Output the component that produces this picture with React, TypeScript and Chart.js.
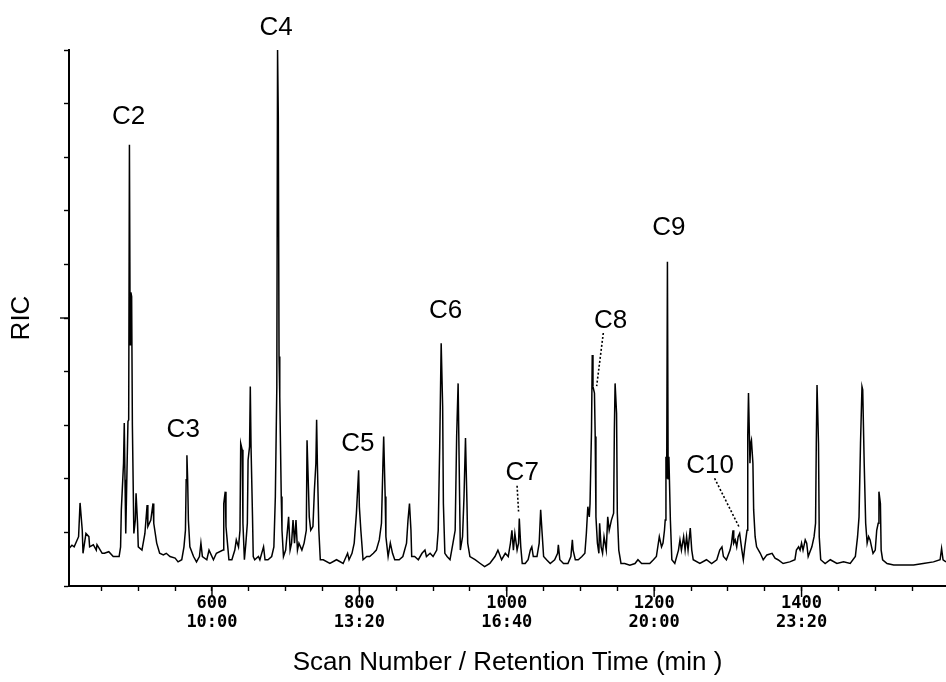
import React, { useEffect, useRef } from 'react';
import { Chart, registerables } from 'chart.js';

Chart.register(...registerables);

// ---- data (scan number, RIC intensity in % of full scale) ----
const scans = [
  406, 410, 413, 419, 421, 424, 425, 429, 433, 434, 439, 443, 444, 447, 451, 454, 460, 466, 474, 476,
  477, 480, 481, 482, 483, 484, 486, 487, 488, 489, 490, 491, 492, 494, 496, 497, 499, 500, 505, 509,
  512, 513, 517, 520, 521, 525, 529, 534, 538, 543, 550, 554, 559, 562, 564, 565, 566, 567, 568, 570,
  575, 579, 583, 585, 587, 593, 596, 602, 606, 615, 616, 618, 619, 621, 623, 627, 631, 633, 636, 638,
  639, 641, 642, 644, 646, 648, 649, 651, 652, 653, 655, 656, 658, 663, 665, 670, 672, 676, 681, 684,
  686, 688, 689, 690, 691, 692, 694, 695, 697, 700, 704, 706, 708, 710, 712, 714, 716, 718, 722, 725,
  728, 729, 731, 732, 734, 737, 739, 741, 742, 743, 745, 747, 751, 760, 769, 778, 784, 786, 790, 793,
  796, 799, 800, 802, 805, 810, 814, 819, 823, 827, 830, 832, 833, 835, 836, 839, 842, 845, 848, 854,
  859, 864, 866, 868, 870, 871, 875, 880, 885, 889, 891, 896, 900, 905, 907, 909, 911, 913, 914, 916,
  919, 923, 927, 930, 932, 934, 936, 937, 940, 942, 944, 946, 947, 950, 957, 964, 970, 977, 984, 988,
  993, 998, 1002, 1005, 1007, 1009, 1011, 1014, 1016, 1017, 1019, 1021, 1025, 1029, 1032, 1034, 1036, 1041, 1044, 1046,
  1048, 1050, 1054, 1059, 1065, 1069, 1070, 1072, 1077, 1083, 1087, 1089, 1090, 1093, 1097, 1102, 1106, 1108, 1110, 1112,
  1113, 1115, 1116, 1117, 1119, 1120, 1121, 1123, 1125, 1126, 1128, 1130, 1132, 1135, 1137, 1139, 1142, 1145, 1146, 1147,
  1149, 1150, 1152, 1155, 1160, 1167, 1174, 1178, 1183, 1190, 1194, 1199, 1203, 1207, 1210, 1212, 1214, 1215, 1216, 1217,
  1218, 1219, 1220, 1222, 1224, 1228, 1233, 1235, 1237, 1240, 1242, 1244, 1246, 1249, 1251, 1253, 1262, 1271, 1278, 1285,
  1289, 1292, 1294, 1298, 1303, 1305, 1307, 1308, 1310, 1312, 1314, 1316, 1319, 1321, 1323, 1326, 1327, 1328, 1330, 1331,
  1332, 1334, 1335, 1337, 1339, 1344, 1348, 1353, 1360, 1364, 1368, 1375, 1384, 1391, 1393, 1396, 1398, 1400, 1402, 1405,
  1407, 1409, 1414, 1417, 1419, 1420, 1421, 1423, 1424, 1426, 1432, 1439, 1448, 1457, 1466, 1473, 1476, 1478, 1480, 1482,
  1483, 1485, 1487, 1489, 1491, 1493, 1495, 1497, 1500, 1502, 1504, 1505, 1507, 1508, 1510, 1516, 1525, 1538, 1552, 1565,
  1579, 1588, 1590, 1592, 1596,
];

const intensities = [
  7.0, 7.6, 7.3, 9.2, 15.5, 10.4, 6.1, 9.8, 9.2, 7.3, 7.7, 6.7, 7.7, 7.0, 6.1, 6.1, 6.4, 5.5, 5.5, 7.3,
  14.2, 22.9, 30.4, 19.8, 9.8, 16.7, 30.7, 31.0, 82.3, 45.0, 54.8, 54.0, 30.0, 9.8, 12.3, 17.3, 11.7, 7.3, 6.7, 9.8,
  15.1, 11.1, 12.3, 15.4, 11.7, 8.0, 6.1, 5.8, 6.1, 5.5, 5.2, 4.5, 4.9, 7.3, 10.4, 19.8, 24.4, 19.8, 12.3, 7.3,
  5.5, 4.5, 5.5, 8.0, 5.5, 4.9, 6.7, 4.9, 6.1, 6.7, 15.4, 17.6, 11.1, 8.0, 4.9, 4.9, 6.7, 8.6, 7.3, 10.4,
  26.6, 25.4, 11.7, 4.9, 8.0, 11.7, 23.5, 26.0, 37.2, 26.0, 12.9, 5.5, 4.9, 5.5, 4.9, 7.3, 4.9, 4.9, 5.5, 7.3,
  16.7, 37.2, 100.0, 87.5, 42.8, 35.3, 16.7, 10.4, 5.5, 6.7, 12.9, 6.7, 8.0, 12.3, 8.0, 12.3, 6.7, 8.0, 6.7, 8.0,
  10.4, 27.2, 17.9, 12.9, 10.4, 11.1, 17.9, 22.9, 31.0, 22.9, 10.4, 4.9, 4.9, 4.2, 4.9, 4.2, 6.1, 4.9, 6.1, 8.0,
  13.6, 21.6, 14.8, 10.4, 4.9, 5.5, 5.5, 6.1, 6.7, 8.6, 11.7, 22.9, 27.9, 16.7, 9.2, 5.5, 8.0, 6.1, 4.9, 4.9,
  5.5, 8.0, 12.3, 15.4, 10.4, 5.5, 5.5, 4.9, 6.1, 6.7, 5.5, 6.1, 5.5, 6.7, 10.4, 26.0, 45.3, 33.5, 15.4, 6.1,
  5.5, 4.9, 8.0, 10.4, 27.9, 37.8, 16.7, 6.7, 9.2, 16.7, 27.6, 15.4, 8.0, 5.5, 4.9, 4.2, 3.6, 4.2, 5.5, 6.7,
  4.9, 6.1, 5.5, 8.0, 10.4, 6.7, 9.8, 6.7, 8.0, 12.6, 7.3, 4.2, 4.2, 4.9, 6.7, 7.3, 5.5, 5.5, 8.0, 14.2,
  9.8, 5.5, 4.9, 4.2, 4.9, 6.1, 7.7, 4.9, 4.2, 4.2, 5.5, 8.6, 6.7, 4.9, 4.9, 5.5, 6.1, 9.8, 14.8, 12.9,
  15.4, 29.1, 43.1, 37.2, 36.0, 27.9, 12.9, 8.0, 6.1, 11.7, 7.3, 6.1, 9.2, 6.7, 12.9, 10.4, 12.3, 13.6, 29.1, 37.8,
  32.2, 13.6, 6.7, 4.2, 4.2, 3.9, 4.2, 4.9, 4.2, 4.2, 4.2, 4.9, 5.5, 9.2, 7.3, 8.0, 10.4, 12.3, 24.1, 20.0,
  60.5, 20.0, 24.1, 12.3, 4.9, 4.2, 6.7, 8.6, 6.7, 9.2, 6.7, 9.2, 6.7, 10.8, 6.7, 4.9, 4.2, 4.9, 4.2, 4.9,
  6.7, 7.3, 5.5, 4.9, 6.7, 8.0, 10.4, 8.0, 8.6, 7.3, 9.2, 9.8, 6.7, 4.9, 7.3, 10.4, 27.9, 36.0, 22.9, 26.6,
  27.2, 22.9, 14.2, 9.2, 7.3, 6.1, 4.9, 5.8, 6.1, 5.2, 4.9, 4.2, 4.5, 4.9, 6.7, 7.3, 6.7, 8.0, 6.7, 8.6,
  8.0, 5.5, 7.3, 9.2, 11.7, 26.6, 37.5, 26.6, 9.2, 4.9, 4.2, 4.9, 4.2, 4.5, 4.2, 5.5, 9.2, 12.9, 26.6, 37.2,
  36.6, 22.9, 11.7, 8.0, 9.2, 8.6, 7.3, 6.1, 6.7, 10.4, 11.7, 17.6, 15.4, 6.7, 4.9, 4.2, 3.9, 3.9, 3.9, 4.2,
  4.5, 4.9, 7.0, 4.9, 4.5,
];

// ---- axes ----
const xMin = 406;
const xMax = 1596;
const minorTickScans = [450, 500, 550, 650, 700, 750, 850, 900, 950, 1050, 1100, 1150, 1250, 1300, 1350, 1450, 1500, 1550];
const majorTickScans = [600, 800, 1000, 1200, 1400];
const majorTickTimes = ['10:00', '13:20', '16:40', '20:00', '23:20'];
const yTickValues = [0, 10, 20, 30, 40, 50, 60, 70, 80, 90, 100];
const yLongTick = 50;

// ---- peak labels ----
const peakNames = ['C2', 'C3', 'C4', 'C5', 'C6', 'C7', 'C8', 'C9', 'C10'];
const peakLabelScans = [487, 561, 687, 798, 917, 1021, 1141, 1220, 1276];
const peakLabelValues = [87.5, 29.2, 104.2, 26.6, 51.3, 21.1, 49.4, 66.8, 22.4];

// dotted leader lines (from label toward peak)
const leaderFromScans = [1014, 1131, 1282];
const leaderFromValues = [18.7, 47.2, 20.1];
const leaderToScans = [1016, 1122, 1316];
const leaderToValues = [13.9, 37.3, 10.8];

const LABEL_FONT = "'Liberation Sans', Arial, Helvetica, sans-serif";

const extrasPlugin = {
  id: 'extras',
  afterDraw(chart: any) {
    const { ctx } = chart;
    const xs = chart.scales.x;
    const ys = chart.scales.y;
    ctx.save();
    ctx.strokeStyle = '#000';
    ctx.fillStyle = '#000';

    // longer tick at mid-scale on y axis
    const yl = ys.getPixelForValue(yLongTick);
    ctx.lineWidth = 1.4;
    ctx.beginPath();
    ctx.moveTo(chart.chartArea.left - 9, yl);
    ctx.lineTo(chart.chartArea.left, yl);
    ctx.stroke();

    // longer major ticks on x axis
    const yb = chart.chartArea.bottom;
    majorTickScans.forEach((s) => {
      const px = xs.getPixelForValue(s);
      ctx.beginPath();
      ctx.moveTo(px, yb);
      ctx.lineTo(px, yb + 11);
      ctx.stroke();
    });

    // leader lines
    ctx.setLineDash([2, 2]);
    ctx.lineWidth = 1.6;
    leaderFromScans.forEach((s, i) => {
      ctx.beginPath();
      ctx.moveTo(xs.getPixelForValue(s), ys.getPixelForValue(leaderFromValues[i]));
      ctx.lineTo(xs.getPixelForValue(leaderToScans[i]), ys.getPixelForValue(leaderToValues[i]));
      ctx.stroke();
    });
    ctx.setLineDash([]);

    // peak labels
    ctx.font = `26px ${LABEL_FONT}`;
    ctx.textAlign = 'center';
    ctx.textBaseline = 'middle';
    peakNames.forEach((n, i) => {
      ctx.fillText(n, xs.getPixelForValue(peakLabelScans[i]), ys.getPixelForValue(peakLabelValues[i]));
    });
    ctx.restore();
  },
};

function toTime(i: number) {
  return majorTickTimes[i];
}

export default function App() {
  const canvasRef = useRef<HTMLCanvasElement | null>(null);

  useEffect(() => {
    const canvas = canvasRef.current;
    if (!canvas) return;
    const points = scans.map((s, i) => ({ x: s, y: intensities[i] }));
    const allXTicks = [...minorTickScans, ...majorTickScans].sort((a, b) => a - b);

    const chart = new Chart(canvas, {
      type: 'line',
      data: {
        datasets: [
          {
            data: points,
            borderColor: '#000',
            borderWidth: 1.5,
            pointRadius: 0,
            tension: 0,
            fill: false,
            clip: 6,
          },
        ],
      },
      options: {
        responsive: false,
        animation: false,
        devicePixelRatio: 1,
        layout: { padding: { top: 50, left: 0, right: 0, bottom: 0 } },
        plugins: {
          legend: { display: false },
          tooltip: { enabled: false },
          title: { display: false },
        },
        scales: {
          x: {
            type: 'linear',
            position: 'bottom',
            min: xMin,
            max: xMax,
            afterBuildTicks: (scale: any) => {
              scale.ticks = allXTicks.map((v) => ({ value: v }));
            },
            afterFit: (scale: any) => {
              scale.height = 96;
            },
            ticks: {
              autoSkip: false,
              maxRotation: 0,
              minRotation: 0,
              padding: 3,
              color: '#000',
              font: { family: "'DejaVu Sans Mono', monospace", size: 17, weight: 'bold', lineHeight: 19 / 17 },
              callback: (value: any) => {
                const idx = majorTickScans.indexOf(Number(value));
                return idx >= 0 ? [String(value), toTime(idx)] : '';
              },
            },
            grid: {
              display: true,
              drawOnChartArea: false,
              drawTicks: true,
              tickLength: 5,
              tickColor: '#000',
              tickWidth: 1.4,
            },
            border: { display: true, color: '#000', width: 2 },
            title: {
              display: true,
              text: 'Scan Number / Retention Time (min )',
              color: '#000',
              font: { family: LABEL_FONT, size: 26, lineHeight: 1.2 },
              padding: { top: 0, bottom: 4 },
            },
          },
          y: {
            type: 'linear',
            position: 'left',
            min: 0,
            max: 100,
            afterBuildTicks: (scale: any) => {
              scale.ticks = yTickValues.map((v) => ({ value: v }));
            },
            afterFit: (scale: any) => {
              scale.width = 69;
            },
            ticks: {
              display: true,
              padding: 0,
              callback: () => '',
            },
            grid: {
              display: true,
              drawOnChartArea: false,
              drawTicks: true,
              tickLength: 5,
              tickColor: '#000',
              tickWidth: 1.4,
            },
            border: { display: true, color: '#000', width: 2 },
            title: {
              display: true,
              text: 'RIC',
              color: '#000',
              font: { family: LABEL_FONT, size: 26, lineHeight: 1.2 },
              padding: { top: 6, bottom: 0 },
            },
          },
        },
      } as any,
      plugins: [extrasPlugin],
    });

    return () => chart.destroy();
  }, []);

  return (
    <div style={{ position: 'absolute', left: 0, top: 0, width: 946, height: 682, background: '#fff' }}>
      <canvas ref={canvasRef} width={946} height={682} style={{ width: 946, height: 682, display: 'block' }} />
    </div>
  );
}
